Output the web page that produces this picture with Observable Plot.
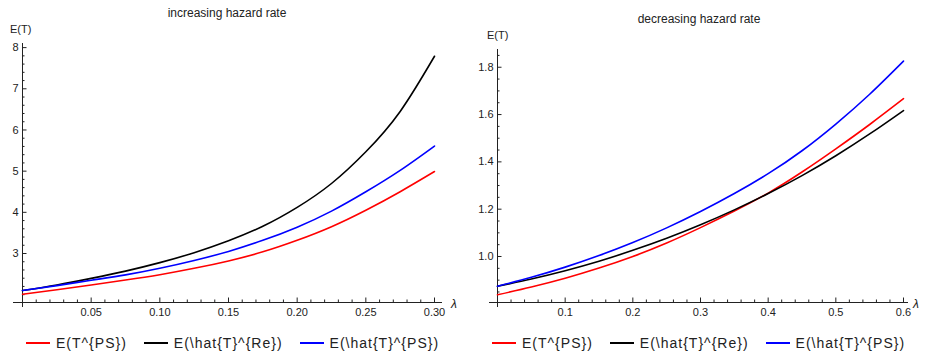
<!DOCTYPE html>
<html><head><meta charset="utf-8">
<script src="https://cdn.jsdelivr.net/npm/d3@7"></script>
<script src="https://cdn.jsdelivr.net/npm/@observablehq/plot@0.6"></script>
<style>
body{margin:0;background:#fff;font-family:"Liberation Sans",Arial,sans-serif;}
#wrap{position:relative;width:926px;height:354px;overflow:hidden;}
.abs{position:absolute;white-space:nowrap;color:#222;line-height:1;}
.title{font-size:12px;transform:translate(-50%,-50%);}
.ylab{font-size:11px;transform:translateY(-50%);}
.lam{font-size:12px;font-style:italic;transform:translateY(-50%);}
.legend{display:flex;align-items:center;gap:17px;font-size:14px;letter-spacing:1px;transform:translateY(-50%);}
.item{display:flex;align-items:center;gap:6px;}
.sw{width:24px;height:0;border-top:2px solid;}
svg{position:absolute;}
</style></head><body><div id="wrap"></div>
<script>
// ---- data ----
const seriesNames = ["E(T^{PS})", "E(\\hat{T}^{Re})", "E(\\hat{T}^{PS})"];
const seriesColors = ["#ff0000", "#000000", "#0000ff"];

// left panel: increasing hazard rate
const incLambda = [0, 0.025, 0.05, 0.075, 0.10, 0.125, 0.15, 0.175, 0.20, 0.225, 0.25, 0.275, 0.30];
const incPS     = [2.01, 2.12, 2.235, 2.355, 2.485, 2.64, 2.82, 3.04, 3.32, 3.65, 4.05, 4.50, 4.99];
const incHatRe  = [2.10, 2.236, 2.396, 2.572, 2.778, 3.019, 3.309, 3.661, 4.12, 4.70, 5.47, 6.45, 7.79];
const incHatPS  = [2.10, 2.22, 2.35, 2.48, 2.64, 2.83, 3.05, 3.32, 3.64, 4.03, 4.50, 5.02, 5.61];
const incXTicks = [0.05, 0.10, 0.15, 0.20, 0.25, 0.30];
const incXTickLabels = ["0.05", "0.10", "0.15", "0.20", "0.25", "0.30"];
const incYTicks = [3, 4, 5, 6, 7, 8];
const incYTickLabels = ["3", "4", "5", "6", "7", "8"];

// right panel: decreasing hazard rate
const decLambda = [0, 0.05, 0.10, 0.15, 0.20, 0.25, 0.30, 0.35, 0.40, 0.45, 0.50, 0.55, 0.60];
const decPS     = [0.838, 0.871, 0.908, 0.951, 1.000, 1.057, 1.122, 1.192, 1.268, 1.357, 1.455, 1.558, 1.667];
const decHatRe  = [0.874, 0.905, 0.940, 0.980, 1.026, 1.077, 1.134, 1.197, 1.266, 1.342, 1.426, 1.518, 1.617];
const decHatPS  = [0.874, 0.912, 0.955, 1.004, 1.059, 1.121, 1.190, 1.266, 1.350, 1.447, 1.560, 1.686, 1.826];
const decXTicks = [0.1, 0.2, 0.3, 0.4, 0.5, 0.6];
const decXTickLabels = ["0.1", "0.2", "0.3", "0.4", "0.5", "0.6"];
const decYTicks = [1.0, 1.2, 1.4, 1.6, 1.8];
const decYTickLabels = ["1.0", "1.2", "1.4", "1.6", "1.8"];

// ---- drawing ----
const wrap = document.getElementById("wrap");
function addText(cls, txt, left, top) {
  const d = document.createElement("div");
  d.className = "abs " + cls; d.textContent = txt;
  d.style.left = left + "px"; d.style.top = top + "px";
  wrap.appendChild(d); return d;
}
function addLegend(left, top) {
  const lg = document.createElement("div");
  lg.className = "abs legend"; lg.style.left = left + "px"; lg.style.top = top + "px";
  seriesNames.forEach((n, i) => {
    const it = document.createElement("div"); it.className = "item";
    const sw = document.createElement("div"); sw.className = "sw"; sw.style.borderTopColor = seriesColors[i];
    const t = document.createElement("span"); t.textContent = n;
    it.appendChild(sw); it.appendChild(t); lg.appendChild(it);
  });
  wrap.appendChild(lg);
}
function panel(c) {
  const H = 300, MB = 18;
  const rows = [];
  c.series.forEach((vals, k) => vals.forEach((v, i) => rows.push({lambda: c.lambda[i], value: v, series: seriesNames[k]})));
  const fx = new Map(c.xTicks.map((v, i) => [v, c.xLabels[i]]));
  const fy = new Map(c.yTicks.map((v, i) => [v, c.yLabels[i]]));
  const ax = "#222";
  // data units per pixel, so the inward ticks get a fixed pixel length
  const [x0, x1] = c.xDomain, [y0, y1] = c.yDomain;
  const upx = (x1 - x0) / (c.width - c.ml - c.mr);
  const upy = (y1 - y0) / (H - c.mt - MB);
  const xTickRule = (data, len) => Plot.ruleX(data, {x: d => d, y1: y0, y2: y0 + len * upy, stroke: ax});
  const yTickRule = (data, len) => Plot.ruleY(data, {y: d => d, x1: x0, x2: x0 + len * upx, stroke: ax});
  const svg = Plot.plot({
    width: c.width, height: H,
    marginLeft: c.ml, marginRight: c.mr, marginTop: c.mt, marginBottom: MB,
    x: {domain: c.xDomain}, y: {domain: c.yDomain},
    color: {domain: seriesNames, range: seriesColors},
    style: {fontFamily: '"Liberation Sans", Arial, sans-serif', fontSize: "11px", color: ax, background: "transparent", overflow: "visible"},
    marks: [
      Plot.ruleY([y0], {insetLeft: c.extL, insetRight: c.extR, stroke: ax}),
      Plot.ruleX([x0], {insetBottom: -5, stroke: ax}),
      xTickRule(c.xMinor, 2.5),
      xTickRule(c.xTicks, 4.5),
      yTickRule(c.yMinor, 2.5),
      yTickRule(c.yTicks, 4.5),
      Plot.axisX(c.xTicks, {tickSize: 0, tickPadding: 6, tickFormat: v => fx.get(v), label: null, fill: ax}),
      Plot.axisY(c.yTicks, {tickSize: 0, tickPadding: 4, tickFormat: v => fy.get(v), label: null, fill: ax}),
      Plot.line(rows, {x: "lambda", y: "value", stroke: "series", z: "series", curve: "natural", strokeWidth: 1.6})
    ]
  });
  svg.style.left = c.left + "px"; svg.style.top = "20px";
  wrap.appendChild(svg);
}

const incXMinor = d3.range(1, 31).map(i => i / 100).filter(v => !incXTicks.some(t => Math.abs(t - v) < 1e-9));
const incYMinor = d3.range(10, 41).map(i => i / 5).filter(v => !incYTicks.some(t => Math.abs(t - v) < 1e-9));
const decXMinor = d3.range(1, 31).map(i => i / 50).filter(v => !decXTicks.some(t => Math.abs(t - v) < 1e-9));
const decYMinor = d3.range(17, 38).map(i => i / 20).filter(v => !decYTicks.some(t => Math.abs(t - v) < 1e-9));

panel({left: 0, width: 460, ml: 22, mr: 26, mt: 23, xDomain: [0, 0.30], yDomain: [1.81, 8.1],
  extL: -9, extR: -8, lambda: incLambda, series: [incPS, incHatRe, incHatPS],
  xTicks: incXTicks, xLabels: incXTickLabels, yTicks: incYTicks, yLabels: incYTickLabels,
  xMinor: incXMinor, yMinor: incYMinor});
panel({left: 460, width: 466, ml: 37, mr: 23, mt: 29, xDomain: [0, 0.60], yDomain: [0.8055, 1.875],
  extL: -8, extR: -5, lambda: decLambda, series: [decPS, decHatRe, decHatPS],
  xTicks: decXTicks, xLabels: decXTickLabels, yTicks: decYTicks, yLabels: decYTickLabels,
  xMinor: decXMinor, yMinor: decYMinor});

addText("title", "increasing hazard rate", 227, 13);
addText("title", "decreasing hazard rate", 699, 19);
addText("ylab", "E(T)", 10, 29);
addText("ylab", "E(T)", 487, 35);
addText("lam", "λ", 451, 304);
addText("lam", "λ", 913, 304);
addLegend(26, 343);
addLegend(492, 343);
</script></body></html>
